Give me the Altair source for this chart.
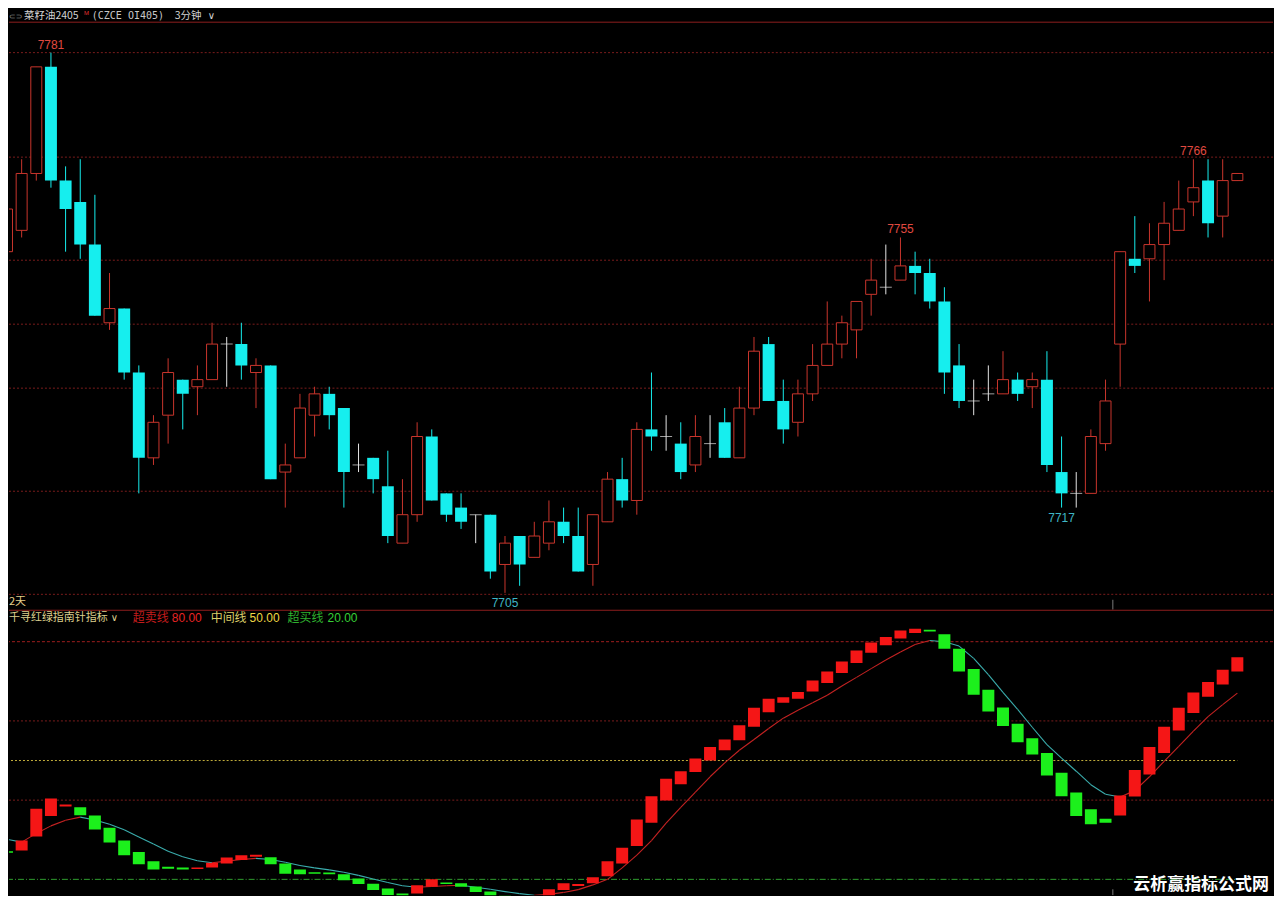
import altair as alt
import numpy as np
import pandas as pd

# ------------------------------------------------------------------ data
opens = [7753, 7756, 7764, 7779, 7763, 7760, 7754, 7743, 7745, 7736,
         7724, 7730, 7735, 7734, 7735, 7740, 7740, 7736, 7737, 7722,
         7724, 7730, 7733, 7731, 7723, 7724, 7720, 7712, 7716, 7727,
         7719, 7717, 7716, 7716, 7709, 7713, 7710, 7712, 7715, 7713,
         7709, 7715, 7721, 7718, 7728, 7727, 7726, 7723, 7726, 7729,
         7724, 7731, 7740, 7732, 7729, 7733, 7737, 7740, 7742, 7747,
         7748, 7749, 7751, 7750, 7746, 7737, 7732, 7733, 7733, 7735,
         7734, 7735, 7722, 7719, 7719, 7726, 7740, 7752, 7752, 7754,
         7756, 7760, 7763, 7758, 7763]
highs = [7761, 7766, 7779, 7781, 7765, 7766, 7761, 7750, 7745, 7737,
         7730, 7738, 7735, 7737, 7743, 7741, 7743, 7738, 7737, 7726,
         7733, 7734, 7734, 7731, 7726, 7724, 7725, 7721, 7729, 7728,
         7719, 7719, 7716, 7716, 7713, 7713, 7715, 7718, 7717, 7717,
         7716, 7722, 7724, 7729, 7736, 7730, 7729, 7730, 7730, 7731,
         7734, 7741, 7741, 7735, 7735, 7740, 7746, 7744, 7746, 7752,
         7754, 7755, 7753, 7752, 7748, 7740, 7735, 7737, 7739, 7736,
         7736, 7739, 7727, 7722, 7728, 7735, 7753, 7758, 7757, 7760,
         7763, 7766, 7766, 7766, 7764]
lows = [7752, 7755, 7763, 7762, 7753, 7752, 7744, 7742, 7735, 7719,
        7723, 7726, 7728, 7730, 7735, 7734, 7735, 7731, 7721, 7717,
        7724, 7727, 7728, 7717, 7722, 7719, 7712, 7712, 7715, 7718,
        7715, 7714, 7712, 7707, 7705, 7706, 7710, 7711, 7712, 7708,
        7706, 7715, 7717, 7716, 7725, 7725, 7721, 7722, 7724, 7724,
        7724, 7730, 7732, 7726, 7727, 7732, 7737, 7738, 7738, 7744,
        7747, 7749, 7747, 7745, 7733, 7731, 7730, 7732, 7733, 7732,
        7731, 7722, 7717, 7717, 7719, 7725, 7734, 7750, 7746, 7749,
        7756, 7758, 7755, 7755, 7763]
closes = [7759, 7764, 7779, 7763, 7759, 7754, 7744, 7745, 7736, 7724,
          7729, 7736, 7733, 7735, 7740, 7740, 7737, 7737, 7721, 7723,
          7731, 7733, 7730, 7722, 7723, 7721, 7713, 7716, 7727, 7718,
          7716, 7715, 7716, 7708, 7712, 7709, 7713, 7715, 7713, 7708,
          7716, 7721, 7718, 7728, 7727, 7727, 7722, 7727, 7726, 7724,
          7731, 7739, 7732, 7728, 7733, 7737, 7740, 7743, 7746, 7749,
          7748, 7751, 7750, 7746, 7736, 7732, 7732, 7733, 7735, 7733,
          7735, 7723, 7719, 7719, 7727, 7732, 7753, 7751, 7754, 7757,
          7759, 7762, 7757, 7763, 7764]

ind_open = [27.1, 27.3, 30.8, 36.0, 38.4, 38.2, 36.1, 33.0, 29.8, 26.9,
            24.6, 23.2, 23.0, 22.6, 23.0, 24.0, 24.9, 25.7, 25.6, 24.0,
            22.5, 21.8, 21.7, 21.3, 20.2, 18.9, 17.7, 16.4, 16.4, 18.1,
            19.2, 19.0, 18.2, 16.9, 16.0, 15.5, 15.1, 15.8, 17.3, 18.3,
            19.0, 20.8, 24.0, 28.4, 34.3, 39.9, 44.0, 47.1, 50.0, 52.6,
            55.1, 58.5, 62.2, 64.6, 65.6, 67.4, 69.6, 72.1, 74.6, 77.2,
            79.1, 80.8, 82.2, 83.0, 81.9, 78.2, 73.1, 67.9, 63.4, 59.3,
            55.6, 51.9, 46.9, 41.9, 37.7, 35.3, 36.1, 40.9, 46.5, 51.9,
            57.6, 62.0, 66.1, 69.2, 72.5]
ind_close = [26.7, 29.8, 37.8, 40.4, 38.9, 36.2, 32.6, 29.3, 26.1, 23.8,
             22.5, 22.7, 22.5, 23.0, 24.2, 25.5, 26.1, 26.2, 23.8, 21.4,
             21.3, 21.4, 21.3, 19.8, 18.8, 17.3, 16.0, 15.4, 18.5, 20.0,
             18.8, 18.1, 16.8, 15.5, 15.1, 14.6, 15.6, 17.5, 19.0, 18.8,
             20.5, 24.6, 28.0, 35.1, 41.0, 45.4, 47.3, 50.5, 53.4, 55.3,
             58.9, 63.3, 65.6, 66.0, 67.3, 70.2, 72.5, 75.0, 77.8, 79.8,
             81.2, 82.8, 83.3, 82.6, 78.2, 72.5, 66.6, 62.4, 58.7, 54.6,
             51.5, 46.2, 41.0, 36.0, 33.9, 34.3, 41.2, 47.6, 53.4, 58.5,
             63.3, 67.2, 69.8, 72.9, 76.1]
ind_line = [30.1, 29.4, 31.6, 33.5, 34.9, 35.7, 35.0, 33.9, 32.5, 30.7,
            28.9, 27.1, 25.7, 24.7, 24.2, 24.6, 25.0, 25.3, 25.0, 24.3,
            23.5, 22.9, 22.4, 21.8, 21.0, 20.1, 19.2, 18.4, 18.0, 18.2,
            18.4, 18.5, 18.0, 17.5, 16.9, 16.4, 16.0, 16.2, 16.7, 17.4,
            18.6, 20.0, 22.9, 26.1, 29.8, 34.2, 38.2, 42.0, 45.9, 49.4,
            52.6, 55.3, 58.1, 60.7, 62.7, 64.6, 66.5, 68.8, 71.0, 73.2,
            75.4, 77.4, 79.3, 80.3, 80.0, 78.9, 75.8, 71.7, 67.2, 62.9,
            58.4, 54.0, 50.6, 47.3, 43.9, 41.5, 40.8, 42.4, 45.9, 49.8,
            53.6, 57.4, 61.1, 64.1, 67.0]

grid_levels = [7781, 7766.3, 7751.8, 7742.8, 7733.8, 7719.3, 7704.8]
mark_idx = [3, 61, 81, 34, 72]
mark_price = [7781, 7755, 7766, 7705, 7717]
mark_kind = ["high", "high", "high", "low", "low"]
ind_grid_levels = [60, 40]
overbought_level = [80]
mid_level = [50]
oversold_level = [20]
session_break_idx = [75.5]

# ------------------------------------------------------------------ layout
W = 1266
H_TOP = 602
H_BOT = 286
STEP = 14.67
X0 = -2.0
x_dom = [(0 - X0) / STEP, (W - X0) / STEP]
PX_PER_PT = 7.12
P_TOP = 7781 + 44 / PX_PER_PT
p_dom = [P_TOP - H_TOP / PX_PER_PT, P_TOP]
PX_PER_U = 3.967
V_TOP = 80 + 32 / PX_PER_U
v_dom = [V_TOP - H_BOT / PX_PER_U, V_TOP]

UP = "#c9352c"
DOWN = "#16eeee"
FLAT = "#e4e4e4"
GRID = "#7a1c1c"
IRED = "#f51616"
IGREEN = "#1cf01c"
CJK = "Noto Sans CJK SC"
SANS = "Liberation Sans"

xs = alt.Scale(domain=x_dom, nice=False, zero=False, padding=0)
ys = alt.Scale(domain=p_dom, nice=False, zero=False, padding=0)
vs = alt.Scale(domain=v_dom, nice=False, zero=False, padding=0)

n = len(opens)
df = pd.DataFrame({"i": np.arange(n), "o": opens, "h": highs, "l": lows, "c": closes})
df["kind"] = np.where(df.c > df.o, "up", np.where(df.c < df.o, "down", "flat"))

kind_color = alt.Color("kind:N", scale=alt.Scale(domain=["up", "down", "flat"],
                                                 range=[UP, DOWN, FLAT]), legend=None)
X = alt.X("i:Q", scale=xs, axis=None)


def txt(s, x, y, color, size=12, font=CJK, weight="normal", align="left", baseline="middle"):
    return alt.Chart(pd.DataFrame({"t": [s]})).mark_text(
        align=align, baseline=baseline, font=font, fontSize=size,
        fontWeight=weight, color=color, clip=True
    ).encode(x=alt.value(x), y=alt.value(y), text="t:N")


# ------------------------------------------------------------------ top panel
base = alt.Chart(df)
grid = alt.Chart(pd.DataFrame({"p": grid_levels})).mark_rule(
    color=GRID, strokeDash=[2, 2], strokeWidth=1, clip=True
).encode(y=alt.Y("p:Q", scale=ys, axis=None))

wicks = base.mark_rule(strokeWidth=1, clip=True).encode(
    x=X, y=alt.Y("l:Q", scale=ys, axis=None), y2="h:Q", color=kind_color)
down_bodies = base.transform_filter(alt.datum.kind == "down").mark_bar(
    size=12, color=DOWN, clip=True
).encode(x=X, y=alt.Y("o:Q", scale=ys, axis=None), y2="c:Q")
up_bodies = base.transform_filter(alt.datum.kind == "up").mark_bar(
    size=11, fill="black", stroke=UP, strokeWidth=1, clip=True
).encode(x=X, y=alt.Y("o:Q", scale=ys, axis=None), y2="c:Q")
flats = base.transform_filter(alt.datum.kind == "flat").mark_tick(
    orient="horizontal", size=12, thickness=1, color=FLAT, clip=True
).encode(x=X, y=alt.Y("o:Q", scale=ys, axis=None))

lab = pd.DataFrame({"i": mark_idx, "p": mark_price, "kind": mark_kind})
lab["t"] = lab["p"].astype(str)
hi_lab = alt.Chart(lab).transform_filter(alt.datum.kind == "high").mark_text(
    font=SANS, fontSize=12, color="#e04a40", dy=-8, baseline="middle", clip=True
).encode(x=X, y=alt.Y("p:Q", scale=ys, axis=None), text="t:N")
lo_lab = alt.Chart(lab).transform_filter(alt.datum.kind == "low").mark_text(
    font=SANS, fontSize=12, color="#3fb6c6", dy=10, baseline="middle", clip=True
).encode(x=X, y=alt.Y("p:Q", scale=ys, axis=None), text="t:N")

sess_top = alt.Chart(pd.DataFrame({"i": session_break_idx})).mark_rule(
    color="#7a7a7a", strokeWidth=1, clip=True
).encode(x=X, y=alt.value(592), y2=alt.value(602))

header_line = alt.Chart(pd.DataFrame({"a": [0]})).mark_rule(
    color="#8e1e1e", strokeWidth=1
).encode(x=alt.value(0), x2=alt.value(W), y=alt.value(13.5))

top = alt.layer(
    grid, header_line, wicks, down_bodies, up_bodies, flats, hi_lab, lo_lab, sess_top,
    txt("⊂⊃", 0, 12, "#9a9a9a", size=8, font="DejaVu Sans", baseline="bottom"),
    txt("菜籽油2405", 15, 12.5, "#d2d2d2", size=10.5, baseline="bottom"),
    txt("M", 75, 1.5, "#e03030", size=6, font=SANS, baseline="top"),
    txt("(CZCE OI405)", 83, 12, "#c8c8c8", size=10, font="DejaVu Sans Mono", baseline="bottom"),
    txt("3分钟", 166, 12.5, "#d2d2d2", size=10.5, baseline="bottom"),
    txt("∨", 199, 12, "#d2d2d2", size=10, font="DejaVu Sans", baseline="bottom"),
    txt("2天", 0, 594, "#e2cf8a", size=11),
).properties(width=W, height=H_TOP)

# ------------------------------------------------------------------ bottom panel
idf = pd.DataFrame({"i": np.arange(n), "o": ind_open, "c": ind_close})
idf["bdir"] = np.where(idf.c > idf.o, "rise", "fall")
bar_color = alt.Color("bdir:N", scale=alt.Scale(domain=["rise", "fall"], range=[IRED, IGREEN]),
                      legend=None)
ibars = alt.Chart(idf).mark_bar(size=12, clip=True).encode(
    x=X, y=alt.Y("o:Q", scale=vs, axis=None), y2="c:Q", color=bar_color)

seg = pd.DataFrame({"i": np.arange(n - 1), "i2": np.arange(1, n),
                    "v": ind_line[:-1], "v2": ind_line[1:]})
seg["ldir"] = np.where(seg.v2 >= seg.v, "lup", "ldown")
line_color = alt.Color("ldir:N", scale=alt.Scale(domain=["lup", "ldown"],
                                                 range=["#c42222", "#3aacac"]), legend=None)
ma = alt.Chart(seg).mark_rule(strokeWidth=1.1, clip=True).encode(
    x=X, x2="i2:Q", y=alt.Y("v:Q", scale=vs, axis=None), y2="v2:Q", stroke=line_color)

igrid = alt.Chart(pd.DataFrame({"v": ind_grid_levels})).mark_rule(
    color=GRID, strokeDash=[2, 2], strokeWidth=1, clip=True
).encode(y=alt.Y("v:Q", scale=vs, axis=None))
ob = alt.Chart(pd.DataFrame({"v": overbought_level})).mark_rule(
    color="#a01e1e", strokeDash=[3, 2], strokeWidth=1, clip=True
).encode(y=alt.Y("v:Q", scale=vs, axis=None))
mid = alt.Chart(pd.DataFrame({"v": mid_level, "a": [0], "b": [n - 1]})).mark_rule(
    color="#c2ae3c", strokeDash=[2, 2], strokeWidth=1, clip=True
).encode(x=alt.X("a:Q", scale=xs, axis=None), x2="b:Q", y=alt.Y("v:Q", scale=vs, axis=None))
os_ = alt.Chart(pd.DataFrame({"v": oversold_level, "a": [0], "b": [n - 1]})).mark_rule(
    color="#2f9e2f", strokeDash=[6, 2, 1, 2], strokeWidth=1, clip=True
).encode(x=alt.X("a:Q", scale=xs, axis=None), x2="b:Q", y=alt.Y("v:Q", scale=vs, axis=None))

sep_line = alt.Chart(pd.DataFrame({"a": [0]})).mark_rule(
    color="#8e1e1e", strokeWidth=1
).encode(x=alt.value(0), x2=alt.value(W), y=alt.value(0.5))
sess_bot = alt.Chart(pd.DataFrame({"i": session_break_idx})).mark_rule(
    color="#7a7a7a", strokeWidth=1, clip=True
).encode(x=X, y=alt.value(280), y2=alt.value(286))

bottom = alt.layer(
    igrid, ob, mid, os_, sep_line, ma, ibars, sess_bot,
    txt("千寻红绿指南针指标", 0, 8, "#dccf8e", size=11),
    txt("∨", 102, 8, "#dccf8e", size=10, font="DejaVu Sans"),
    txt("超卖线", 124, 8, "#c41c1c", size=12),
    txt("80.00", 163, 8, "#e82424", size=12, font=SANS),
    txt("中间线", 202, 8, "#dccf6a", size=12),
    txt("50.00", 241, 8, "#f0d844", size=12, font=SANS),
    txt("超买线", 279, 8, "#2fb02f", size=12),
    txt("20.00", 319, 8, "#36d036", size=12, font=SANS),
    txt("云析赢指标公式网", 1194, 276, "#ffffff", size=17, weight="bold", align="center"),
).properties(width=W, height=H_BOT)

chart = alt.vconcat(top, bottom, spacing=0).resolve_scale(
    y="independent", color="independent", stroke="independent"
).properties(background="black", padding=0).configure_view(stroke=None)

chart.save("out.html", embed_options={"renderer": "svg", "actions": False})
